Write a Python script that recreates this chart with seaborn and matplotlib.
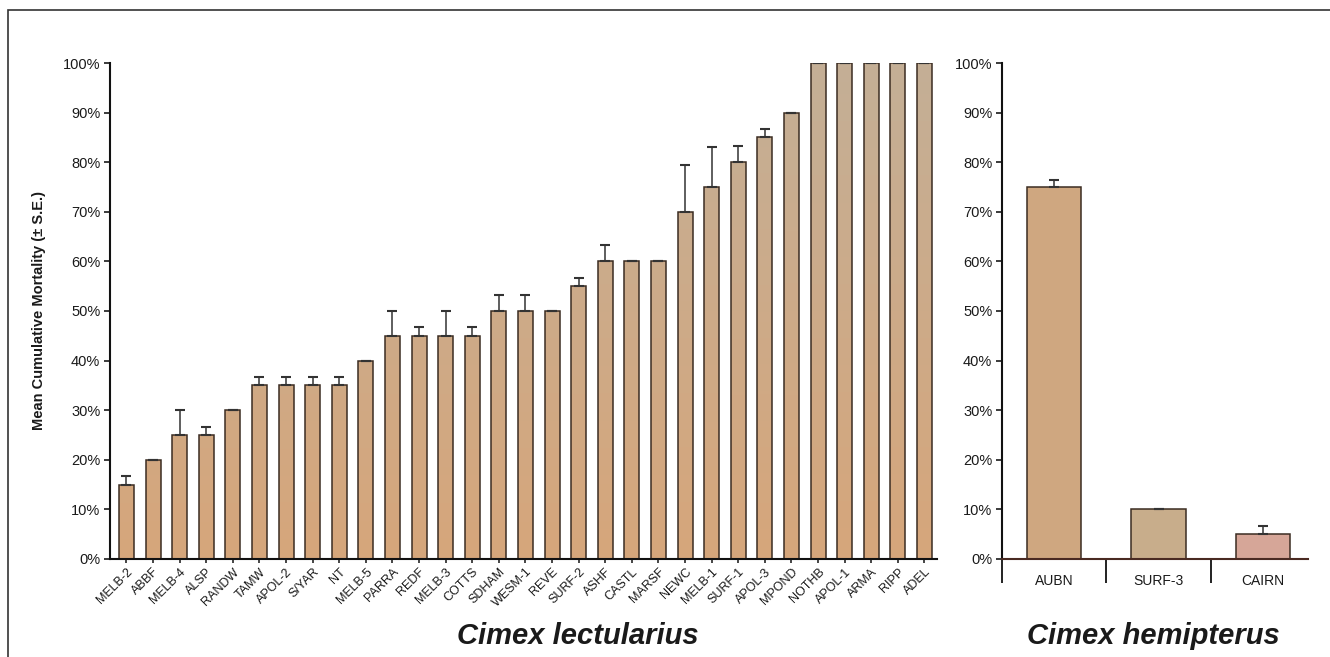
import matplotlib
matplotlib.use("Agg")
import matplotlib.pyplot as plt
import seaborn as sns
import numpy as np
import pandas as pd
from matplotlib.ticker import PercentFormatter, FixedLocator
from matplotlib.patches import Rectangle
from matplotlib.colors import LinearSegmentedColormap

# Cimex lectularius strains
lect_strains = ["MELB-2", "ABBF", "MELB-4", "ALSP", "RANDW", "TAMW", "APOL-2", "S/YAR",
                "NT", "MELB-5", "PARRA", "REDF", "MELB-3", "COTTS", "SDHAM", "WESM-1",
                "REVE", "SURF-2", "ASHF", "CASTL", "MARSF", "NEWC", "MELB-1", "SURF-1",
                "APOL-3", "MPOND", "NOTHB", "APOL-1", "ARMA", "RIPP", "ADEL"]
lect_mortality = [15, 20, 25, 25, 30, 35, 35, 35, 35, 40, 45, 45, 45, 45, 50, 50,
                  50, 55, 60, 60, 60, 70, 75, 80, 85, 90, 100, 100, 100, 100, 100]
lect_se = [1.7, 0, 5, 1.7, 0, 1.7, 1.7, 1.7, 1.7, 0, 5, 1.7, 5, 1.7, 3.3, 3.3,
           0, 1.7, 3.3, 0, 0, 9.5, 8, 3.3, 1.7, 0, 0, 0, 0, 0, 0]

# Cimex hemipterus strains
hemi_strains = ["AUBN", "SURF-3", "CAIRN"]
hemi_mortality = [75, 10, 5]
hemi_se = [1.5, 0, 1.7]

sns.set_style("ticks")
plt.rcParams["font.family"] = ["Liberation Sans", "DejaVu Sans"]

bar_color = "#CDAA86"
edge_color = "#3b2c22"
text_color = "#1a1a1a"
tan_cmap = LinearSegmentedColormap.from_list("tan", ["#D6A67B", "#C4AF96"])


def shade_bars(ax, patches):
    # vertical tan gradient (orange at the bottom, greyer towards 100%)
    for p in patches:
        x0, y0 = p.get_x(), p.get_y()
        w, h = p.get_width(), p.get_height()
        grad = np.linspace(y0 / 100, (y0 + h) / 100, 128).reshape(-1, 1)
        im = ax.imshow(grad, cmap=tan_cmap, vmin=0, vmax=1, origin="lower",
                       extent=(x0, x0 + w, y0, y0 + h), aspect="auto", zorder=0.9)
        im.set_clip_path(p)
        p.set_facecolor("none")


fig = plt.figure(figsize=(13.3, 6.57), dpi=100)
ax1 = fig.add_axes([0.0827, 0.1492, 0.6218, 0.7549])
ax2 = fig.add_axes([0.7534, 0.1492, 0.2300, 0.7549])

# left panel
df_lect = pd.DataFrame({"strain": lect_strains, "mortality": lect_mortality})
sns.barplot(data=df_lect, x="strain", y="mortality", color=bar_color, width=0.56,
            edgecolor=edge_color, linewidth=1.1, saturation=1, ax=ax1)
shade_bars(ax1, list(ax1.patches))
xs = np.arange(len(lect_strains))
ax1.errorbar(xs, lect_mortality, yerr=[np.zeros(len(lect_se)), lect_se], fmt="none",
             ecolor="#333333", elinewidth=1.1, capsize=3.5, capthick=1.5)
ax1.set_xlim(-0.62, len(lect_strains) - 1 + 0.47)
ax1.set_ylim(0, 100)
ax1.yaxis.set_major_locator(FixedLocator(range(0, 101, 10)))
ax1.yaxis.set_major_formatter(PercentFormatter(100, decimals=0))
ax1.set_xlabel("")
ax1.set_ylabel("Mean Cumulative Mortality (± S.E.)", fontsize=10.5, fontweight="bold",
               color=text_color, labelpad=12)
ax1.set_xticks(xs)
ax1.set_xticklabels(lect_strains, rotation=45, ha="right", rotation_mode="anchor",
                    fontsize=9, color=text_color)
ax1.tick_params(axis="y", labelsize=10.5, length=4, width=1.2, colors=text_color, pad=3)
ax1.tick_params(axis="x", length=3, width=1.2, pad=2)
ax1.spines[["top", "right"]].set_visible(False)
for s in ["left", "bottom"]:
    ax1.spines[s].set_linewidth(1.5)
    ax1.spines[s].set_color("#111111")

# right panel
df_hemi = pd.DataFrame({"strain": hemi_strains, "mortality": hemi_mortality})
sns.barplot(data=df_hemi, x="strain", y="mortality", hue="strain", legend=False,
            palette=["#CFA780", "#C8AD8B", "#D6A698"], width=0.52,
            edgecolor=edge_color, linewidth=1.1, saturation=1, ax=ax2)
xh = np.arange(len(hemi_strains))
ax2.errorbar(xh, hemi_mortality, yerr=[np.zeros(len(hemi_se)), hemi_se], fmt="none",
             ecolor="#333333", elinewidth=1.1, capsize=3.5, capthick=1.5)
ax2.set_xlim(-0.5, 2.43)
ax2.set_ylim(0, 100)
ax2.yaxis.set_major_locator(FixedLocator(range(0, 101, 10)))
ax2.yaxis.set_major_formatter(PercentFormatter(100, decimals=0))
ax2.set_xlabel("")
ax2.set_ylabel("")
ax2.set_xticks(xh)
ax2.set_xticklabels(hemi_strains, fontsize=10, color=text_color)
ax2.xaxis.set_minor_locator(FixedLocator([-0.5, 0.5, 1.5]))
ax2.tick_params(axis="x", which="major", length=0, pad=11)
ax2.tick_params(axis="x", which="minor", length=17, width=1.3, color="#111111")
ax2.tick_params(axis="y", labelsize=10.5, length=4, width=1.2, colors=text_color, pad=3)
ax2.spines[["top", "right"]].set_visible(False)
ax2.spines["left"].set_linewidth(1.5)
ax2.spines["left"].set_color("#111111")
ax2.spines["bottom"].set_linewidth(1.5)
ax2.spines["bottom"].set_color("#4a2a22")

# species titles
fig.text(0.4346, 0.020, "Cimex lectularius", fontsize=21, fontweight="bold",
         style="italic", ha="center", va="baseline", color=text_color)
fig.text(0.867, 0.020, "Cimex hemipterus", fontsize=21, fontweight="bold",
         style="italic", ha="center", va="baseline", color=text_color)

# outer frame
fig.patches.append(Rectangle((0.006, -0.1), 1.2, 1.0848, transform=fig.transFigure,
                             fill=False, edgecolor="#333333", linewidth=1.2))

fig.savefig("out.png", dpi=100)
plt.close(fig)
